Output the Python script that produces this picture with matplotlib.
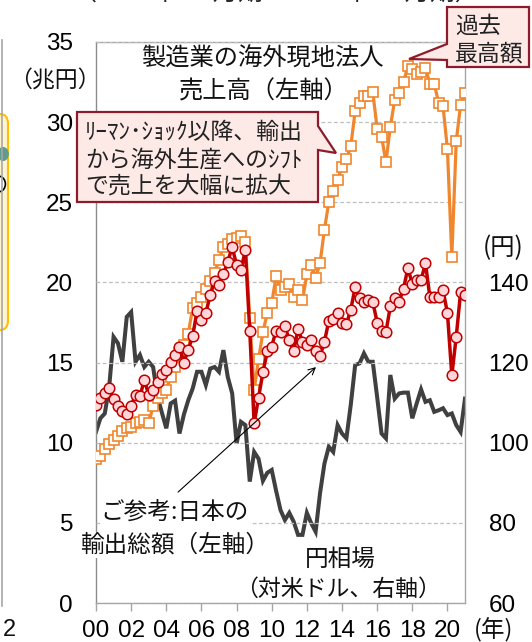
import matplotlib
matplotlib.use('Agg')
import matplotlib.pyplot as plt
from matplotlib.patches import Polygon, FancyBboxPatch, Circle
import numpy as np

W, H = 532, 642
DPI = 100

# ---------------- data (quarterly, 2000Q1 - 2021Q1) ----------------
quarter_index = np.arange(85)
quarter_pos = 2000 + quarter_index / 4

overseas_sales = [9.0, 9.2, 9.6, 9.9, 10.2, 10.4, 10.7, 10.9, 11.0, 11.2, 11.3, 11.4,
                  11.2, 12.3, 12.8, 13.1, 13.3, 14.1, 14.7, 15.6, 16.1, 16.8, 18.4, 18.7,
                  19.1, 19.6, 20.1, 20.6, 21.4, 22.2, 22.4, 22.7, 22.8, 22.9, 22.5, 17.8,
                  13.3, 15.2, 16.9, 18.1, 18.7, 20.4, 19.5, 19.7, 19.9, 19.1, 19.5, 18.9,
                  20.5, 21.1, 20.3, 21.2, 23.3, 25.0, 25.7, 26.4, 27.2, 27.7, 28.5, 30.7,
                  31.2, 31.6, 31.6, 31.9, 29.6, 29.1, 27.5, 29.7, 31.4, 31.8, 32.5, 33.5,
                  33.3, 33.0, 33.1, 33.4, 32.4, 32.4, 31.2, 31.0, 28.3, 21.6, 28.8, 31.1,
                  31.8]

exports = [12.35, 12.8, 13.1, 13.4, 12.7, 12.3, 12.0, 11.8, 12.3, 13.0, 12.9, 13.9,
           13.0, 13.3, 13.8, 14.3, 14.55, 15.05, 15.5, 16.0, 15.0, 15.8, 16.65, 18.2,
           17.65, 18.1, 19.2, 20.1, 19.85, 20.5, 21.3, 22.2, 21.1, 20.8, 22.0, 17.0,
           11.2, 12.8, 14.4, 15.7, 16.0, 17.0, 16.9, 17.3, 16.4, 15.7, 17.1, 16.3,
           16.1, 16.4, 15.7, 15.4, 16.3, 17.6, 17.7, 18.1, 17.5, 17.4, 18.3, 19.7,
           19.0, 18.8, 18.9, 18.8, 17.5, 17.0, 16.9, 18.5, 19.0, 18.8, 19.6, 20.9,
           19.9, 20.15, 20.15, 21.2, 19.1, 19.1, 19.1, 19.5, 18.1, 14.2, 16.6, 19.4,
           19.2]

yen_rate = [102.7, 106.1, 107.3, 113.9, 126.4, 124.8, 120.2, 131.4, 132.6, 120.2, 121.9, 118.9,
            120.2, 118.9, 111.5, 107.5, 103.6, 109.8, 110.5, 102.3, 107.0, 110.6, 113.5, 117.7,
            117.7, 114.4, 118.5, 118.9, 117.7, 123.1, 116.4, 112.3, 99.8, 105.2, 104.4, 90.3,
            97.7, 96.0, 90.5, 92.5, 93.2, 88.0, 83.2, 80.7, 82.5, 80.3, 77.0, 77.0,
            82.5, 79.9, 77.8, 87.4, 94.8, 99.0, 97.7, 104.4, 102.3, 101.1, 109.5, 119.4,
            119.8, 122.3, 120.2, 120.2, 111.4, 102.3, 101.1, 116.9, 111.0, 112.3, 112.5, 112.5,
            106.1, 109.8, 113.3, 110.2, 110.6, 107.7, 108.1, 108.6, 106.9, 107.3, 104.4, 102.7,
            111.0]

year_ticks = list(range(2000, 2021, 2))
year_labels = ['00', '02', '04', '06', '08', '10', '12', '14', '16', '18', '20']
left_ticks = [0, 5, 10, 15, 20, 25, 30, 35]
right_ticks = [60, 80, 100, 120, 140]

JP = ['Noto Sans CJK JP', 'DejaVu Sans']
NUM = ['Liberation Sans', 'DejaVu Sans']

ORANGE = '#F0862E'
RED = '#C00000'
PINK = '#FFD6D9'
DARK = '#404040'
GRID = '#BFBFBF'
FRAME = '#A6A6A6'


def fx(x):
    return x / W


def fy(y):
    return 1 - y / H


fig = plt.figure(figsize=(W / DPI, H / DPI), dpi=DPI)
fig.patch.set_facecolor('white')

ax = fig.add_axes([fx(96), fy(603), (465 - 96) / W, (603 - 42) / H])
ax2 = ax.twinx()
ax.set_zorder(2)
ax2.set_zorder(1)
ax.patch.set_visible(False)

# yen line (right axis)
ax2.plot(quarter_pos, yen_rate, color=DARK, lw=2.9, solid_joinstyle='miter', zorder=2)

# overseas sales and exports (left axis)
ax.plot(quarter_pos, overseas_sales, color=ORANGE, lw=2.3, marker='s', ms=7.6,
        mfc='white', mec=ORANGE, mew=1.2, zorder=3)
ax.plot(quarter_pos, exports, color=RED, lw=2.5, marker='o', ms=7.6,
        mfc=PINK, mec=RED, mew=1.1, zorder=4)

ax.set_xlim(2000, 2021)
ax.set_ylim(0, 35)
ax2.set_ylim(60, 200)

ax.set_xticks(year_ticks)
ax.set_xticklabels(year_labels, fontfamily=NUM, fontsize=17.5)
ax.set_yticks(left_ticks)
ax.set_yticklabels([str(t) for t in left_ticks], fontfamily=NUM, fontsize=17.5)
ax2.set_yticks(right_ticks)
ax2.set_yticklabels([str(t) for t in right_ticks], fontfamily=NUM, fontsize=17.5)

ax.tick_params(axis='x', direction='out', length=6, width=1, color=FRAME, pad=6)
ax.tick_params(axis='y', length=0, pad=16.5)
ax2.tick_params(axis='y', length=0, pad=17)

ax.yaxis.grid(True, color=GRID, linestyle=(0, (3, 2)), linewidth=0.9)
ax.set_axisbelow(False)
for s in ax.spines.values():
    s.set_color(FRAME)
    s.set_linewidth(1.0)
ax.spines['left'].set_color('#8C8C8C')
for s in ax2.spines.values():
    s.set_visible(False)

# arrow pointing at export line
ax.annotate('', xy=(2012.52, 14.72), xytext=(2004.67, 6.92),
            arrowprops=dict(arrowstyle='->', color='black', lw=0.8,
                            shrinkA=0, shrinkB=0, mutation_scale=12), zorder=6)

# ---------------- texts ----------------
fig.text(fx(276), fy(-7), '（2000年1-3月期～2021年1-3月期）', ha='center', va='center',
         fontsize=18, family=JP, color='#222222')

fig.text(fx(262), fy(59), '製造業の海外現地法人', ha='center', va='center',
         fontsize=17.5, family=JP, color='#111111')
fig.text(fx(264), fy(92), '売上高（左軸）', ha='center', va='center',
         fontsize=17.5, family=JP, color='#111111')

fig.text(fx(55), fy(81), '（兆円）', ha='center', va='center', fontsize=16.5,
         family=JP, color='#111111')
fig.text(fx(503), fy(248), '(円)', ha='center', va='center', fontsize=17.5,
         family=JP, color='#111111')
fig.text(fx(494), fy(630), '(年)', ha='center', va='center', fontsize=17,
         family=JP, color='#111111')

for txt, yy in [('ご参考:日本の', 513), ('輸出総額（左軸）', 545)]:
    fig.text(fx(175), fy(yy), txt, ha='center', va='center', fontsize=17,
             family=JP, color='#111111',
             bbox=dict(boxstyle='square,pad=0.05', fc='white', ec='none'), zorder=7)

fig.text(fx(340), fy(559), '円相場', ha='center', va='center', fontsize=17,
         family=JP, color='#111111')
fig.text(fx(338), fy(589), '（対米ドル、右軸）', ha='center', va='center', fontsize=16.5,
         family=JP, color='#111111')

# callout 1
c1 = [(77, 112), (318, 112), (318, 126), (336, 153), (318, 150), (318, 202), (77, 202)]
fig.patches.append(Polygon([(fx(a), fy(b)) for a, b in c1], closed=True,
                           transform=fig.transFigure, fc='#FDE9E6', ec='#8E1B2C',
                           lw=1.6, zorder=8))
for txt, yy in [('ﾘｰﾏﾝ･ｼｮｯｸ以降、輸出', 132), ('から海外生産へのｼﾌﾄ', 160),
                ('で売上を大幅に拡大', 186)]:
    fig.text(fx(85), fy(yy), txt, ha='left', va='center', fontsize=16.5,
             family=JP, color='#222222', zorder=9)

# callout 2
c2 = [(447, 7), (529, 7), (529, 67), (447, 67), (447, 60), (409, 59), (447, 44)]
fig.patches.append(Polygon([(fx(a), fy(b)) for a, b in c2], closed=True,
                           transform=fig.transFigure, fc='#FDE9E6', ec='#8E1B2C',
                           lw=1.6, zorder=8))
fig.text(fx(455), fy(26), '過去', ha='left', va='center', fontsize=16.5,
         family=JP, color='#222222', zorder=9)
fig.text(fx(455), fy(54), '最高額', ha='left', va='center', fontsize=16.5,
         family=JP, color='#222222', zorder=9)

# remnants of the neighbouring panel at the left edge
fig.add_artist(plt.Line2D([fx(2), fx(2)], [fy(40), fy(606)], transform=fig.transFigure,
                          color=FRAME, lw=1.2))
fig.patches.append(FancyBboxPatch((fx(-30), fy(330)), fx(38), (330 - 114) / H,
                                  boxstyle='round,pad=0,rounding_size=0.015',
                                  transform=fig.transFigure, fc='#FFF4D0', ec='#FFC000',
                                  lw=1.5))
fig.patches.append(Circle((fx(3), fy(154)), 0.011, transform=fig.transFigure,
                          fc='#5E9C8F', ec='none'))
fig.patches.append(Circle((fx(-1), fy(184)), 0.012, transform=fig.transFigure,
                          fc='white', ec='black', lw=1.2))
fig.text(fx(9), fy(630), '2', ha='center', va='center', fontsize=17, family=NUM,
         color='#111111')

fig.savefig('out.png', dpi=DPI)
